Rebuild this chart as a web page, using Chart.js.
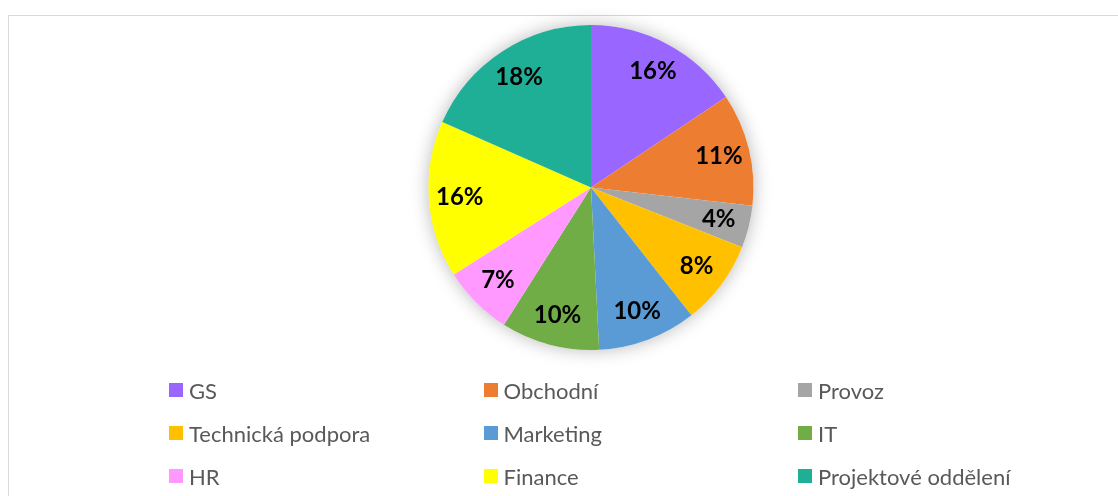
<!DOCTYPE html>
<html><head><meta charset="utf-8">
<script src="https://cdn.jsdelivr.net/npm/chart.js@4.4.1/dist/chart.umd.min.js"></script>
<style>
html,body{margin:0;padding:0;background:#fff;overflow:hidden;width:1118px;height:496px;}
#frame{position:absolute;left:8px;top:15px;width:1200px;height:600px;border:1px solid #d9d9d9;box-sizing:border-box;}
#wrap{position:absolute;left:0;top:0;width:1118px;height:496px;}
#legend{position:absolute;left:0;top:0;width:1118px;height:496px;pointer-events:none;}
.li{position:absolute;display:flex;align-items:center;height:26px;font-family:Lato,"Open Sans",sans-serif;font-size:22px;color:#595959;white-space:nowrap;}
.li .box{display:inline-block;width:14px;height:14px;margin-right:6px;flex:none;}
</style>
</head><body>
<div id="frame"></div>
<div id="wrap"><canvas id="c" width="1118" height="496"></canvas></div>
<div id="legend"></div>
<script>
const categories = ['GS','Obchodní','Provoz','Technická podpora','Marketing','IT','HR','Finance','Projektové oddělení'];
const values = [15.6, 11.2, 4.2, 8.4, 9.8, 9.8, 7.0, 15.6, 18.4];
const colors = ['#9966FF','#ED7D31','#A5A5A5','#FFC000','#5B9BD5','#70AD47','#FF99FF','#FFFF00','#1EAF96'];

const shadowPlugin = {
  id: 'pieShadow',
  beforeDatasetsDraw(chart) {
    const meta = chart.getDatasetMeta(0);
    if (!meta.data.length) return;
    const a = meta.data[0];
    const ctx = chart.ctx;
    ctx.save();
    ctx.shadowColor = 'rgba(0,0,0,0.28)';
    ctx.shadowBlur = 18;
    ctx.shadowOffsetX = 0;
    ctx.shadowOffsetY = 0;
    ctx.fillStyle = '#ffffff';
    ctx.beginPath();
    ctx.arc(a.x, a.y, a.outerRadius, 0, Math.PI * 2);
    ctx.fill();
    ctx.restore();
  }
};

const labelPlugin = {
  id: 'pctLabels',
  afterDatasetsDraw(chart) {
    const ds = chart.data.datasets[0];
    const total = ds.data.reduce((s, v) => s + v, 0);
    const meta = chart.getDatasetMeta(0);
    const ctx = chart.ctx;
    ctx.save();
    ctx.font = 'bold 24px Lato, "Open Sans", sans-serif';
    ctx.fillStyle = '#000000';
    ctx.textAlign = 'center';
    ctx.textBaseline = 'middle';
    meta.data.forEach((arc, i) => {
      const p = arc.getProps(['x','y','startAngle','endAngle','outerRadius'], true);
      const mid = (p.startAngle + p.endAngle) / 2;
      const r = p.outerRadius * 0.81;
      const txt = Math.round(ds.data[i] / total * 100) + '%';
      ctx.fillText(txt, p.x + Math.cos(mid) * r, p.y + Math.sin(mid) * r);
    });
    ctx.restore();
  }
};

const htmlLegend = {
  id: 'htmlLegend',
  afterUpdate(chart) {
    const el = document.getElementById('legend');
    el.innerHTML = '';
    const ds = chart.data.datasets[0];
    chart.data.labels.forEach((lab, i) => {
      const col = i % 3, row = Math.floor(i / 3);
      const item = document.createElement('div');
      item.className = 'li';
      item.style.left = (169 + col * 314.5) + 'px';
      item.style.top = (390 + row * 43 - 13) + 'px';
      const box = document.createElement('span');
      box.className = 'box';
      box.style.background = ds.backgroundColor[i];
      const t = document.createElement('span');
      t.textContent = lab;
      item.appendChild(box);
      item.appendChild(t);
      el.appendChild(item);
    });
  }
};

new Chart(document.getElementById('c'), {
  type: 'pie',
  data: {
    labels: categories,
    datasets: [{ data: values, backgroundColor: colors, borderWidth: 0 }]
  },
  options: {
    responsive: false,
    animation: false,
    layout: { padding: { top: 25, bottom: 146, left: 64, right: 0 } },
    plugins: { legend: { display: false }, tooltip: { enabled: false } }
  },
  plugins: [shadowPlugin, labelPlugin, htmlLegend]
});
</script>
</body></html>
